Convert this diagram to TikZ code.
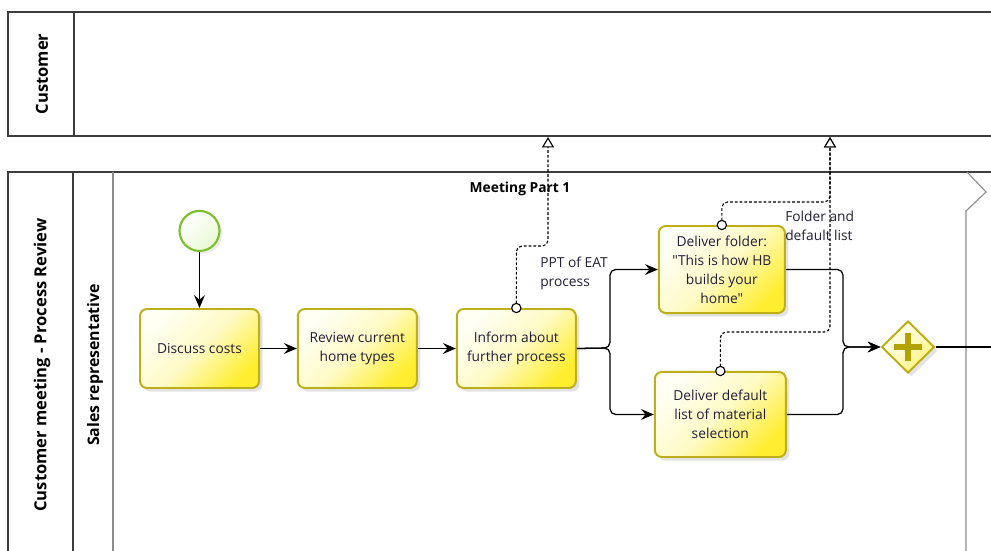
\documentclass[tikz,border=0pt]{standalone}
\usepackage{fontspec}
\setmainfont{Open Sans}[Ligatures=TeXOff]
\usetikzlibrary{arrows.meta,positioning,shapes.geometric,shadows}
\definecolor{ink}{HTML}{221E38}
\definecolor{pline}{HTML}{3C3C3C}
\definecolor{lline}{HTML}{8C8C8C}
\definecolor{tdraw}{HTML}{BDAF1A}
\definecolor{tlight}{HTML}{FFFFF4}
\definecolor{tmid}{HTML}{FFFAC6}
\definecolor{tdeep}{HTML}{FFEE30}
\definecolor{sdraw}{HTML}{7DBE2D}
\definecolor{sfill}{HTML}{E8FAD4}
\definecolor{plusc}{HTML}{B2A300}
\tikzset{
  task/.style={draw=tdraw,line width=1.4pt,rounded corners=5pt,align=center,
    minimum width=29.75mm,minimum height=19.75mm,inner sep=2pt,text=ink,
    font=\fontsize{9.8}{13.5}\selectfont,top color=tlight,bottom color=tdeep,middle color=tmid,
    shading angle=45,drop shadow={shadow xshift=2.5pt,shadow yshift=-2.5pt,opacity=0.22}},
  gate/.style={diamond,draw=tdraw,line width=1.4pt,inner sep=0pt,minimum width=13.25mm,
    minimum height=13mm,top color=tlight,bottom color=tdeep!70,middle color=tmid,shading angle=45,
    drop shadow={shadow xshift=2.5pt,shadow yshift=-2.5pt,opacity=0.22}},
  startev/.style={circle,draw=sdraw,line width=1.5pt,inner sep=0pt,minimum size=10mm,
    top color=white,bottom color=sfill,shading angle=45,
    drop shadow={shadow xshift=2pt,shadow yshift=-2pt,opacity=0.15}},
  seq/.style={-{Stealth[length=3.2mm,width=2.7mm,inset=1.1mm]},line width=0.9pt,
    rounded corners=4pt,color=black},
  assoc/.style={{Circle[fill=white,length=2.6mm]}-{Triangle[open,fill=white,length=2.6mm,width=3mm]},
    dash pattern=on 2pt off 1.4pt,line width=0.8pt,shorten <=-1.3mm,rounded corners=4pt,color=black},
  pool/.style={line width=1.2pt,color=pline},
  lane/.style={line width=0.8pt,color=lline},
  head/.style={rotate=90,font=\fontsize{11.8}{14}\selectfont\bfseries,text=black},
  lbl/.style={font=\fontsize{9.8}{13.5}\selectfont,text=ink,align=left,inner sep=0pt,anchor=north west},
}
\begin{document}
\begin{tikzpicture}[x=0.025cm,y=-0.025cm]
  \useasboundingbox (0,0) rectangle (991,551);
  \clip (0,0) rectangle (991,551);
  % pools and lanes
  \draw[pool] (995,12) -- (8,12) -- (8,136) -- (995,136);
  \draw[pool] (74,12) -- (74,136);
  \draw[pool] (995,172) -- (8,172) -- (8,560);
  \draw[pool] (73,172) -- (73,560);
  \draw[lane] (113,172) -- (113,560);
  \draw[lane] (967,172) -- (986,192) -- (966,211) -- (966,560);
  \node[head] (cust) at (42,74) {Customer};
  \node[head] (cmpr) at (42,365) {Customer meeting - Process Review};
  \node[head,font=\fontsize{11.3}{14}\selectfont\bfseries] (sales) at (95,365) {Sales representative};
  \node[font=\fontsize{9.8}{12}\selectfont\bfseries] (mp1) at (520,189) {Meeting Part 1};
  % flow nodes
  \node[task] (disc) at (199.5,348.5) {Discuss costs};
  \node[startev,above=14mm of disc] (st) {};
  \node[task,right=9.2mm of disc] (rev) {Review current\\home types};
  \node[task,right=9.5mm of rev] (inf) {Inform about\\further process};
  \node[task,minimum width=31.5mm,minimum height=21.75mm,above right=-1.5mm and 20.25mm of inf]
    (fold) {Deliver folder:\\"This is how HB\\builds your\\home"};
  \node[task,minimum width=32.75mm,minimum height=21.25mm,below right=-4.5mm and 19.25mm of inf]
    (dflt) {Deliver default\\list of material\\selection};
  \node[gate] (gw) at (908,347) {};
  \draw[plusc,line width=4.2pt] ([xshift=-3.4mm]gw.center) -- ([xshift=3.4mm]gw.center);
  \draw[plusc,line width=4.2pt] ([yshift=-3.4mm]gw.center) -- ([yshift=3.4mm]gw.center);
  \coordinate (sp) at (610,348);
  \coordinate (jn) at (843,347);
  \coordinate (gwout) at (995,347);
  \coordinate (pptin) at (548,137);
  \coordinate (fdlin) at (830,137);
  % sequence flows
  \foreach \a/\b in {st/disc,disc/rev,rev/inf}{\draw[seq] (\a) -- (\b);}
  \draw[seq] (inf.east) -- (sp) |- (fold.west);
  \draw[seq] (inf.east) -- (sp) |- (dflt.west);
  \draw[seq] (fold.east) -| (jn) -- (gw.west);
  \draw[seq] (dflt.east) -| (jn) -- (gw.west);
  \draw[seq,-] (gw.east) -- (gwout);
  % data associations
  \node[lbl] (ppt) at (540,257) {PPT of EAT\\process};
  \node[lbl] (fdl) at (785,211) {Folder and\\default list};
  \draw[assoc] (inf.north) -- ++(0,-62) -| (pptin);
  \draw[assoc] (fold.north) -- ++(0,-23) -| (fdlin);
  \draw[assoc] (dflt.north) -- ++(0,-39) -| (fdlin);
\end{tikzpicture}
\end{document}
